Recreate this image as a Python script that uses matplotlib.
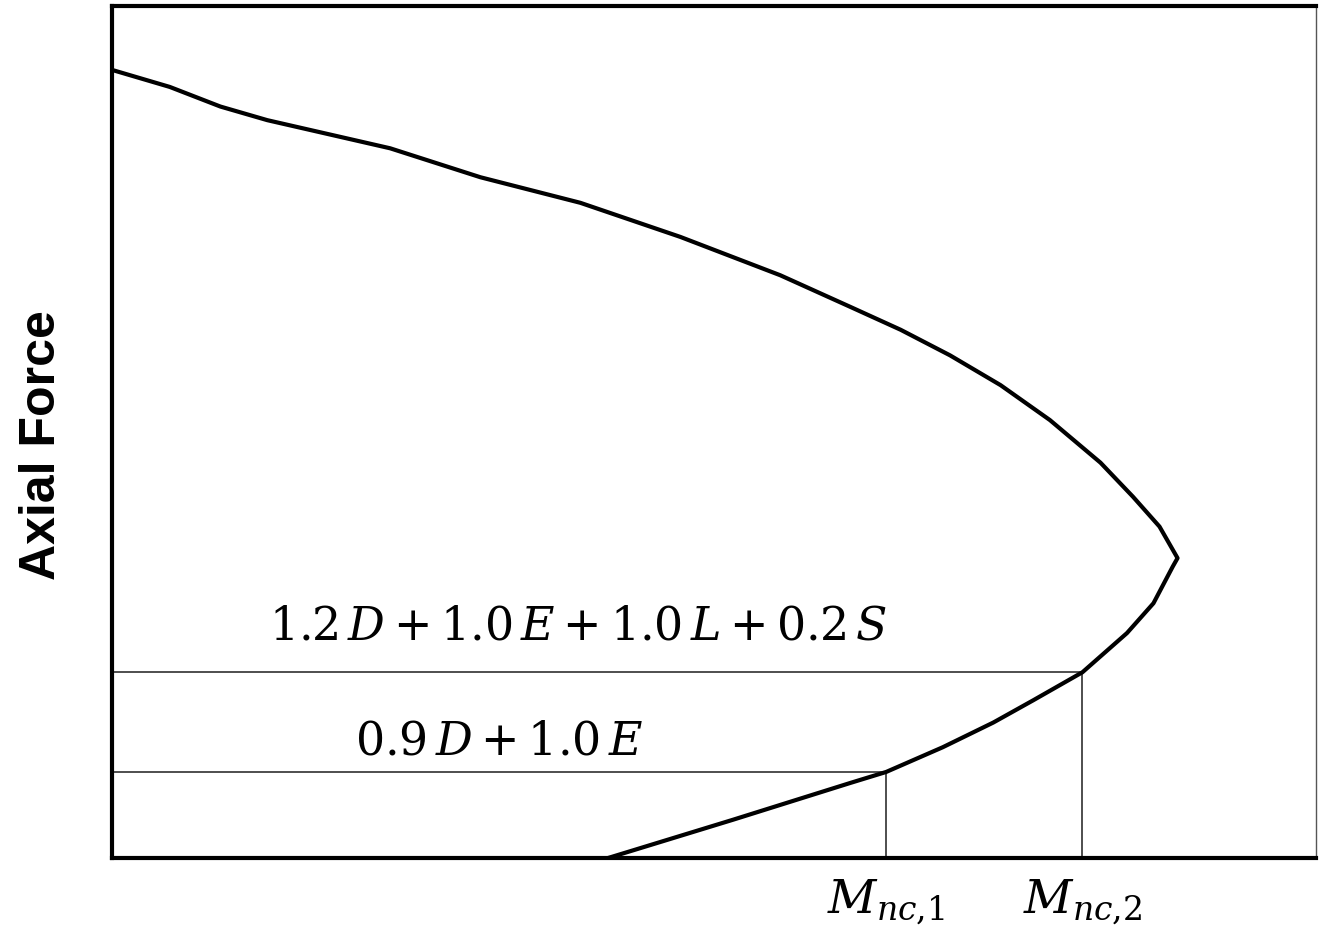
#!/usr/bin/env python3

import matplotlib
matplotlib.use('Agg')
import matplotlib.pyplot as plt

# interaction curve, moment (x) vs axial force (y), both in % of axis span
upper_m = [0.0, 4.8, 9.0, 12.9, 23.1, 30.6, 38.9, 47.2, 55.5, 61.3, 65.5,
           69.6, 73.8, 77.9, 82.1, 84.8, 87.0, 88.5]
upper_p = [92.5, 90.5, 88.2, 86.6, 83.3, 79.9, 76.9, 72.9, 68.4, 64.7, 62.0,
           59.0, 55.5, 51.4, 46.4, 42.4, 38.9, 35.2]
lower_m = [88.5, 88.1, 86.5, 84.3, 80.6, 76.5, 73.2, 69.0, 64.3, 61.3, 51.6,
           41.2]
lower_p = [35.2, 34.2, 29.9, 26.4, 21.8, 18.5, 15.9, 13.0, 10.1, 8.8, 4.5,
           0.0]

# load combinations and the moment capacities they produce
combos = [r'$1.2\,D + 1.0\,E + 1.0\,L + 0.2\,S$', r'$0.9\,D + 1.0\,E$']
combo_p = [21.8, 10.1]
combo_m = [80.6, 64.3]
m_labels = [r'$M_{nc{,}2}$', r'$M_{nc{,}1}$']


def main():
    plt.rcParams['mathtext.fontset'] = 'dejavuserif'
    fig = plt.figure(figsize=(13.19, 9.40), dpi=100)
    ax = fig.add_axes([112 / 1319, 82 / 940, 1204 / 1319, 852 / 940])

    ax.plot(upper_m + lower_m[1:], upper_p + lower_p[1:], color='black',
            linewidth=3.0, solid_joinstyle='round', zorder=3)

    for p, m in zip(combo_p, combo_m):
        ax.plot([0, m], [p, p], color='#404040', linewidth=1.3, zorder=2)
        ax.plot([m, m], [0, p], color='#404040', linewidth=1.3, zorder=2)

    ax.text(38.7, 25.6, combos[0], fontsize=33, ha='center', va='baseline')
    ax.text(32.1, 12.1, combos[1], fontsize=33, ha='center', va='baseline')
    for m, lab in zip(combo_m, m_labels):
        ax.text(m, -6.4, lab, fontsize=34, ha='center', va='baseline',
                clip_on=False)

    ax.set_xlim(0, 100)
    ax.set_ylim(0, 100)
    ax.set_xticks([])
    ax.set_yticks([])
    for side in ['left', 'top', 'bottom']:
        ax.spines[side].set_linewidth(3.0)
    ax.spines['right'].set_linewidth(1.0)
    ax.spines['right'].set_color('#555555')

    fig.text(42 / 1319, 1 - 445 / 940, 'Axial Force', rotation=90,
             fontsize=36, fontweight='bold', family='Liberation Sans',
             ha='center', va='center')

    fig.savefig('out.png', dpi=100)


if __name__ == '__main__':
    main()
